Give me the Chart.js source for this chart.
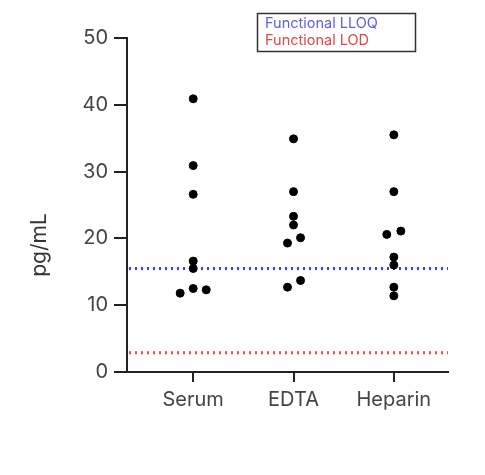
<!DOCTYPE html>
<html><head><meta charset="utf-8">
<script src="https://cdn.jsdelivr.net/npm/chart.js@4"></script>
<style>body{margin:0;background:#fff}</style></head>
<body><canvas id="c" width="485" height="475"></canvas>
<script>
const categories = ["Serum","EDTA","Heparin"];
const serum = [[0,40.9],[0,30.9],[0,26.6],[0,16.6],[0,15.5],[0,12.5],[-0.13,11.8],[0.13,12.3]];
const edta = [[0,34.9],[0,27.0],[0,23.3],[0,22.0],[-0.06,19.3],[0.07,20.1],[-0.06,12.7],[0.07,13.7]];
const heparin = [[0,35.5],[0,27.0],[-0.07,20.6],[0.07,21.1],[0,17.2],[0,16.0],[0,12.7],[0,11.4]];
const lloq = 15.5, lod = 2.9;
const yTicks = [0,10,20,30,40,50];
const groups = [serum, edta, heparin];
const pts = [];
groups.forEach((g,i)=>g.forEach(p=>pts.push({x:i+1+p[0], y:p[1]})));
const refLines = {id:'ref', beforeDatasetsDraw(ch){
  const {ctx, chartArea:a, scales:{y}} = ch;
  ctx.save(); ctx.lineWidth=3; ctx.setLineDash([2,4]); ctx.lineCap='butt';
  [[lloq,'#3b3bf0'],[lod,'#f04a4a']].forEach(([v,c])=>{
    const py=y.getPixelForValue(v); ctx.strokeStyle=c;
    ctx.beginPath(); ctx.moveTo(a.left+2,py); ctx.lineTo(a.right,py); ctx.stroke();});
  ctx.restore();
}, afterDraw(ch){
  const ctx=ch.ctx; ctx.save();
  ctx.strokeStyle='#333'; ctx.lineWidth=1.5; ctx.strokeRect(257.5,13.5,158,38);
  ctx.font='14.5px Inter'; ctx.textBaseline='middle';
  ctx.fillStyle='#6060e0'; ctx.fillText('Functional LLOQ',265,24);
  ctx.fillStyle='#e04848'; ctx.fillText('Functional LOD',265,41);
  ctx.translate(40,245); ctx.rotate(-Math.PI/2);
  ctx.textAlign='center'; ctx.fillStyle='#333'; ctx.font='21px Inter';
  ctx.fillText('pg/mL',0,0);
  ctx.restore();
}};
new Chart(document.getElementById('c'),{
  type:'scatter',
  data:{datasets:[{data:pts, backgroundColor:'#000', borderColor:'#000', pointRadius:4, pointHoverRadius:4}]},
  options:{responsive:false, animation:false,
    layout:{padding:{top:38,right:37,left:0,bottom:0}},
    plugins:{legend:{display:false}, tooltip:{enabled:false}},
    scales:{
      x:{type:'linear', min:0.34, max:3.54,
        afterBuildTicks(s){s.ticks=categories.map((c,i)=>({value:i+1}));},
        ticks:{callback:(v)=>categories[v-1]||'', color:'#444', font:{size:20,family:'Inter'}, padding:6, autoSkip:false},
        grid:{display:true, drawOnChartArea:false, tickLength:10, color:'#222', lineWidth:2},
        border:{color:'#222', width:2},
        afterFit(s){s.height=103;}},
      y:{min:0,max:50,
        afterBuildTicks(s){s.ticks=yTicks.map(v=>({value:v}));},
        ticks:{color:'#444', font:{size:20,family:'Inter'}, padding:6},
        grid:{drawOnChartArea:false, tickLength:13, color:'#222', lineWidth:2},
        border:{color:'#222', width:2},
        afterFit(s){s.width=127;}}
    }},
  plugins:[refLines]
});
</script></body></html>
